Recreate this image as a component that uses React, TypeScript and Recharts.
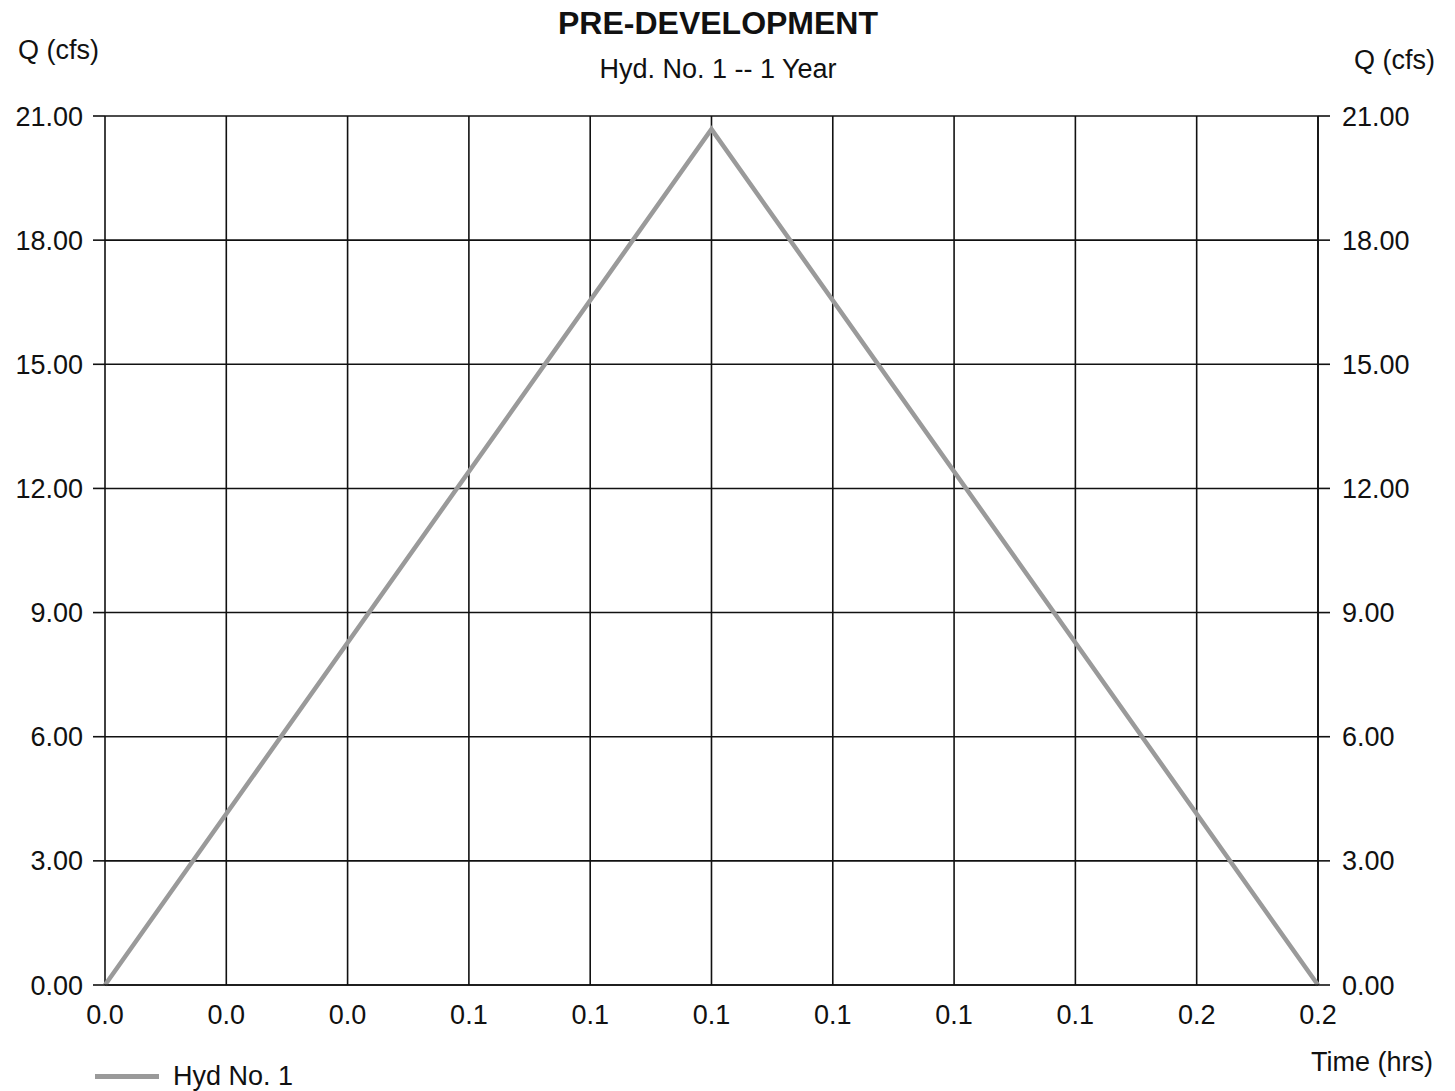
import React from "react";
import { LineChart, Line, XAxis, YAxis, CartesianGrid, Legend } from "recharts";

const times = [0, 0.08333, 0.16667];
const flows = [0, 20.68, 0];
const xTicks = [0, 0.016667, 0.033333, 0.05, 0.066667, 0.083333, 0.1, 0.116667, 0.133333, 0.15, 0.166667];
const xTickLabels = ["0.0", "0.0", "0.0", "0.1", "0.1", "0.1", "0.1", "0.1", "0.1", "0.2", "0.2"];
const yTicks = [0, 3, 6, 9, 12, 15, 18, 21];
const seriesName = "Hyd No. 1";

const data = times.map((t, i) => ({ t, q: flows[i] }));

const FONT = "'Liberation Sans', Arial, sans-serif";
const LINE_COLOR = "#9a9a9a";
const TICK_FONT = 27;

const LegendContent = () => (
  <div style={{ display: "flex", alignItems: "center", fontFamily: FONT, fontSize: 27, color: "#111", lineHeight: 1 }}>
    <div style={{ width: 64, height: 5, background: LINE_COLOR, marginRight: 14 }} />
    <span>{seriesName}</span>
  </div>
);

const txt = (extra: React.CSSProperties): React.CSSProperties => ({
  position: "absolute",
  fontFamily: FONT,
  color: "#111",
  whiteSpace: "nowrap",
  lineHeight: 1,
  ...extra,
});

export default function App() {
  return (
    <div style={{ position: "absolute", left: 0, top: 0, width: 1455, height: 1091, background: "#fff" }}>
      <LineChart
        width={1455}
        height={1091}
        data={data}
        margin={{ top: 116, right: 7, bottom: 19, left: 10 }}
      >
        <CartesianGrid yAxisId="left" stroke="#111" strokeWidth={1.6} horizontal vertical />
        <XAxis
          dataKey="t"
          type="number"
          domain={[0, 0.166667]}
          ticks={xTicks}
          tickFormatter={(_v: number, i: number) => xTickLabels[i]}
          interval={0}
          height={60}
          tickLine={false}
          axisLine={{ stroke: "#111", strokeWidth: 1.6 }}
          tickMargin={14}
          tick={{ fontFamily: FONT, fontSize: TICK_FONT, fill: "#111" }}
        />
        <YAxis
          yAxisId="left"
          domain={[0, 21]}
          ticks={yTicks}
          interval={0}
          width={95}
          tickFormatter={(v: number) => v.toFixed(2)}
          tickSize={12}
          tickMargin={10}
          axisLine={false}
          tickLine={{ stroke: "#111", strokeWidth: 1.6 }}
          tick={{ fontFamily: FONT, fontSize: TICK_FONT, fill: "#111" }}
        />
        <YAxis
          yAxisId="right"
          orientation="right"
          domain={[0, 21]}
          ticks={yTicks}
          interval={0}
          width={130}
          tickFormatter={(v: number) => v.toFixed(2)}
          tickSize={12}
          tickMargin={12}
          axisLine={false}
          tickLine={{ stroke: "#111", strokeWidth: 1.6 }}
          tick={{ fontFamily: FONT, fontSize: TICK_FONT, fill: "#111" }}
        />
        <Legend
          verticalAlign="bottom"
          align="left"
          content={<LegendContent />}
          wrapperStyle={{ position: "absolute", left: 95, top: 1063, width: 300, bottom: "auto" }}
        />
        <Line
          yAxisId="left"
          type="linear"
          dataKey="q"
          name={seriesName}
          stroke={LINE_COLOR}
          strokeWidth={4.5}
          dot={false}
          isAnimationActive={false}
        />
        <Line
          yAxisId="right"
          type="linear"
          dataKey="q"
          stroke="none"
          strokeWidth={0}
          dot={false}
          legendType="none"
          isAnimationActive={false}
        />
      </LineChart>
      <div style={txt({ left: 0, width: 1436, top: 7, textAlign: "center", fontSize: 32, fontWeight: "bold" })}>
        PRE-DEVELOPMENT
      </div>
      <div style={txt({ left: 0, width: 1436, top: 56, textAlign: "center", fontSize: 27 })}>
        Hyd. No. 1 -- 1 Year
      </div>
      <div style={txt({ left: 18, top: 37, fontSize: 27 })}>Q (cfs)</div>
      <div style={txt({ left: 1354, top: 47, fontSize: 27 })}>Q (cfs)</div>
      <div style={txt({ left: 1311, top: 1049, fontSize: 27 })}>Time (hrs)</div>
    </div>
  );
}
